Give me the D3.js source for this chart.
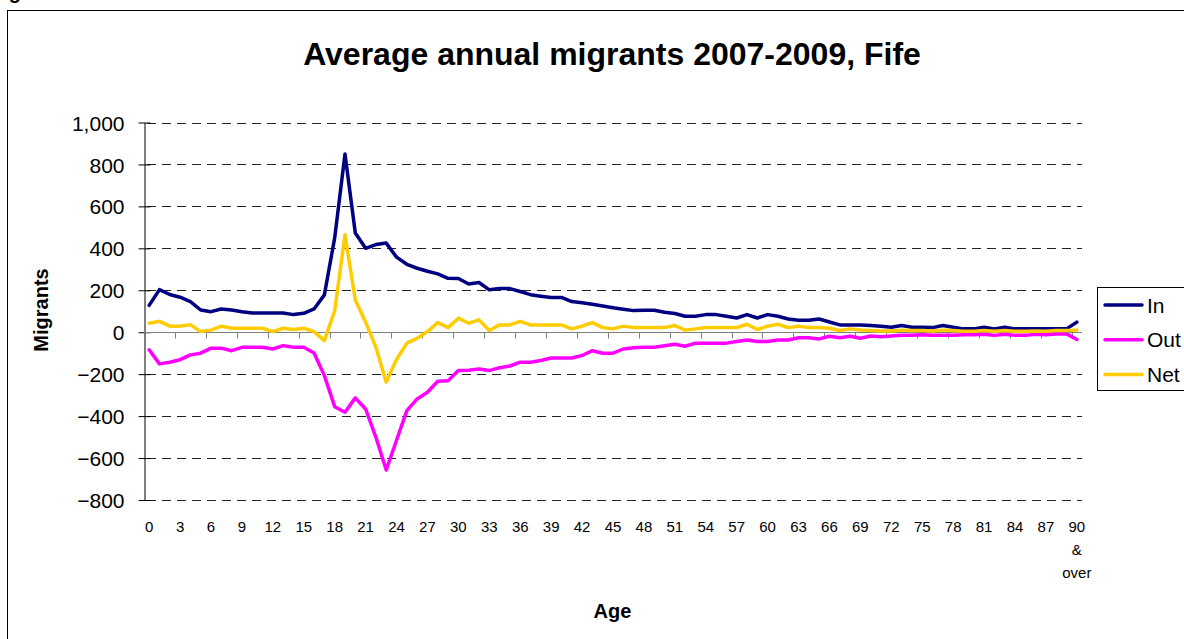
<!DOCTYPE html>
<html>
<head>
<meta charset="utf-8">
<script src="https://cdn.jsdelivr.net/npm/d3@7/dist/d3.min.js"></script>
<style>
  html, body { margin: 0; padding: 0; background: #fff; }
  svg { display: block; font-family: "Liberation Sans", Arial, sans-serif; }
</style>
</head>
<body>
<svg id="chart" width="1184" height="639"></svg>
<script>
// ---- Data ----
const ages = d3.range(0, 91);
const ageLabels = ages.map(a => a === 90 ? "90\n&\nover" : String(a));
const inVals = [128,203,180,167,146,106,98,111,106,98,92,92,92,92,84,90,111,178,450,850,
  473,400,418,425,358,324,305,291,278,257,256,230,237,202,208,208,194,179,172,166,
  166,146,140,133,125,117,110,103,105,105,95,89,76,76,84,84,76,68,84,68,
  84,76,63,57,57,63,49,35,35,35,32,28,24,32,24,24,22,32,24,16,
  16,24,16,24,16,16,16,16,16,16,48];
const outVals = [-84,-151,-143,-131,-108,-100,-76,-76,-88,-72,-72,-72,-80,-64,-72,-72,-99,-207,-355,-382,
  -313,-366,-501,-657,-515,-374,-318,-286,-234,-231,-183,-181,-175,-183,-169,-161,-143,-143,-135,-123,
  -123,-123,-111,-88,-100,-100,-80,-74,-72,-72,-65,-57,-67,-52,-52,-52,-52,-44,-37,-44,
  -44,-37,-37,-26,-26,-32,-19,-26,-19,-29,-18,-22,-18,-15,-15,-12,-15,-15,-15,-12,
  -12,-10,-15,-10,-15,-15,-10,-12,-8,-8,-35];
const netVals = [43,52,29,29,36,3,10,29,19,19,19,19,3,19,13,19,3,-40,103,465,
  154,48,-72,-238,-130,-52,-29,3,46,22,67,43,59,8,35,35,52,35,35,35,
  35,16,29,46,22,16,29,22,22,22,22,32,10,16,22,22,22,22,38,13,
  29,38,22,29,22,22,19,8,16,11,8,6,6,10,8,8,6,10,8,5,
  5,8,5,8,5,5,6,5,8,8,10];
const seriesNames = ["In", "Out", "Net"];
const seriesColors = ["#000080", "#FF00FF", "#FFCC00"];
const yTicks = [-800,-600,-400,-200,0,200,400,600,800,1000];
const titleText = "Average annual migrants 2007-2009, Fife";

const series = [inVals, outVals, netVals];

// ---- Layout ----
const svg = d3.select("#chart");
const pLeft = 144, pRight = 1082, pTop = 122.5, pBottom = 500;

const x = d3.scaleBand().domain(ages).range([pLeft, pRight]).padding(0);
const y = d3.scaleLinear().domain([-800, 1000]).range([pBottom, pTop]);
const cx = a => x(a) + x.bandwidth() / 2;

// outer frame
svg.append("rect").attr("x", 7.5).attr("y", 10.5).attr("width", 1200).attr("height", 700)
  .attr("fill", "#fff").attr("stroke", "#000").attr("stroke-width", 1);

// partially visible header text above frame (only the descender shows, as in the source)
svg.append("text").attr("x", -9).attr("y", -1).attr("font-size", 20).attr("font-weight", "bold")
  .attr("fill", "#000").text("Figure");

// gridlines
svg.append("g").selectAll("line").data(yTicks.filter(t => t !== 0)).join("line")
  .attr("x1", pLeft + 3).attr("x2", pRight).attr("y1", d => Math.round(y(d)) + 0.5).attr("y2", d => Math.round(y(d)) + 0.5)
  .attr("stroke", "#222").attr("stroke-width", 1).attr("stroke-dasharray", "9,6");

// y axis
const yAxis = d3.axisLeft(y).tickValues(yTicks).tickSize(0).tickPadding(0)
  .tickFormat(d3.format(","));
const gy = svg.append("g").attr("transform", `translate(${pLeft + 0.5},0)`).call(yAxis);
gy.select(".domain").attr("stroke", "#000");
gy.selectAll(".tick line").remove();
gy.selectAll(".tick").append("line").attr("x1", -6).attr("x2", 6).attr("stroke", "#000");
gy.selectAll(".tick text").attr("x", -20).attr("font-size", 21).attr("fill", "#000")
  .attr("font-family", "Liberation Sans, Arial, sans-serif").attr("dy", "0.36em");

// x axis at zero
const y0 = Math.round(y(0)) + 0.5;
svg.append("line").attr("x1", pLeft).attr("x2", pRight).attr("y1", y0).attr("y2", y0)
  .attr("stroke", "#808080").attr("stroke-width", 1);
const tickAges = ages.filter(a => a % 3 === 0 && a > 0);
svg.append("g").selectAll("line").data(tickAges).join("line")
  .attr("x1", d => Math.round(x(d)) + 0.5).attr("x2", d => Math.round(x(d)) + 0.5)
  .attr("y1", y0).attr("y2", y0 + 6).attr("stroke", "#808080");

// x tick labels
const labelAges = ages.filter(a => a % 3 === 0);
const xl = svg.append("g").selectAll("text").data(labelAges).join("text")
  .attr("x", d => cx(d)).attr("y", 532).attr("text-anchor", "middle")
  .attr("font-size", 15).attr("fill", "#000");
xl.each(function(d) {
  const lines = ageLabels[d].split("\n");
  const t = d3.select(this);
  lines.forEach((ln, i) => {
    t.append("tspan").attr("x", cx(d)).attr("dy", i === 0 ? 0 : 23).text(ln);
  });
});

// lines
const line = d3.line().x((d, i) => cx(ages[i])).y(d => y(d));
series.forEach((vals, k) => {
  svg.append("path").datum(vals).attr("d", line)
    .attr("fill", "none").attr("stroke", seriesColors[k]).attr("stroke-width", 3.5)
    .attr("stroke-linejoin", "round").attr("stroke-linecap", "round");
});

// title & axis titles
svg.append("text").attr("x", 612).attr("y", 65).attr("text-anchor", "middle")
  .attr("font-size", 32).attr("font-weight", "bold").text(titleText);
svg.append("text").attr("transform", "translate(48,310) rotate(-90)").attr("text-anchor", "middle")
  .attr("font-size", 20).attr("font-weight", "bold").text("Migrants");
svg.append("text").attr("x", 612.5).attr("y", 618).attr("text-anchor", "middle")
  .attr("font-size", 20).attr("font-weight", "bold").text("Age");

// legend
const lg = svg.append("g");
lg.append("rect").attr("x", 1097.5).attr("y", 287.5).attr("width", 120).attr("height", 103)
  .attr("fill", "#fff").attr("stroke", "#000").attr("stroke-width", 1);
seriesNames.forEach((n, i) => {
  const ly = 305 + i * 34.7;
  lg.append("line").attr("x1", 1105).attr("x2", 1142).attr("y1", ly).attr("y2", ly)
    .attr("stroke", seriesColors[i]).attr("stroke-width", 3.5).attr("stroke-linecap", "round");
  lg.append("text").attr("x", 1147).attr("y", ly).attr("dy", "0.36em")
    .attr("font-size", 21).attr("fill", "#000").text(n);
});
</script>
</body>
</html>
